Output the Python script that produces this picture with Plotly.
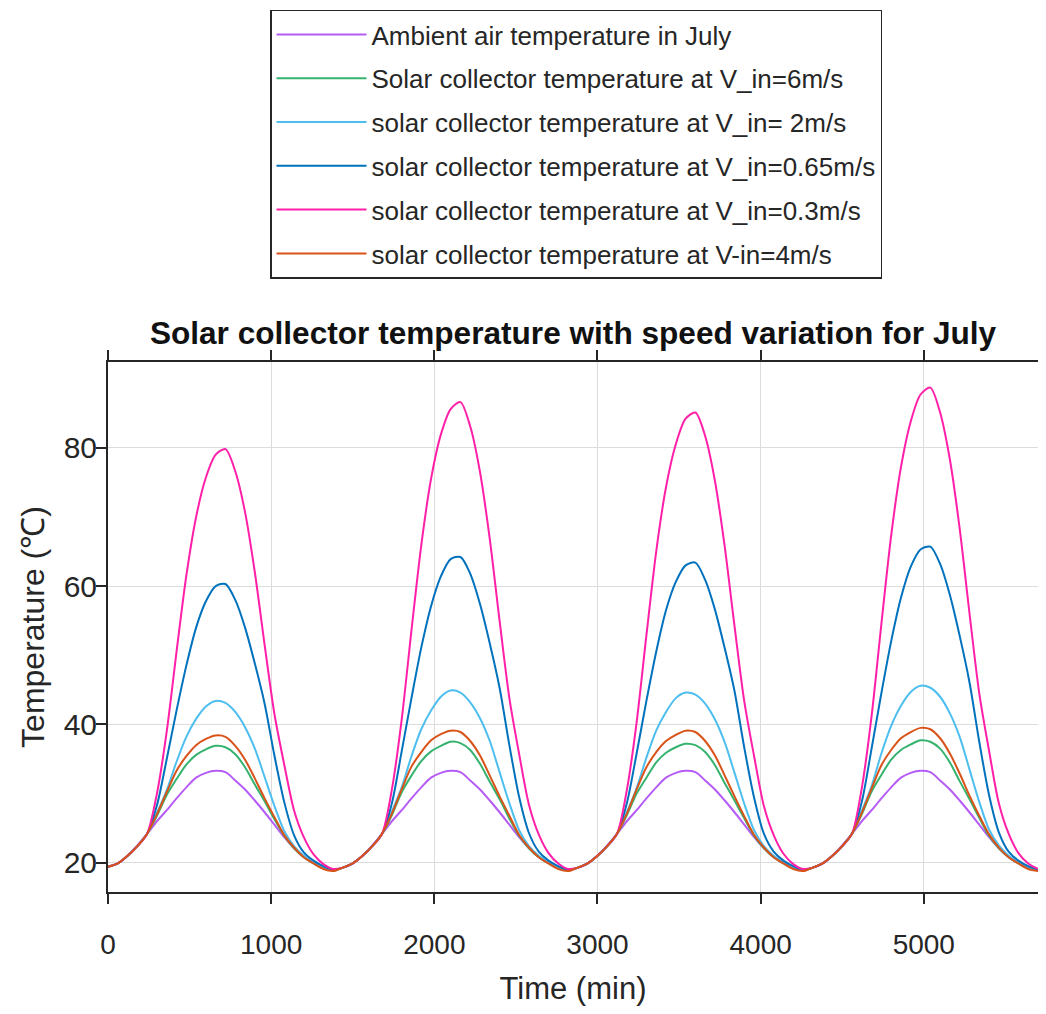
import plotly.graph_objects as go

# Time axis (min), hourly samples
time_min = list(range(0, 5701, 60))

ambient = [
    19.4, 19.9, 21.0, 22.5, 24.2, 26.0, 27.6, 29.3, 30.9, 32.3, 33.0, 33.3, 33.1, 31.9, 30.6, 29.0, 27.3, 25.5, 23.7, 22.1, 20.9, 20.0, 19.3, 19.0,
    19.3, 19.9, 21.0, 22.5, 24.2, 26.0, 27.6, 29.3, 30.9, 32.3, 33.0, 33.3, 33.1, 31.9, 30.6, 29.0, 27.3, 25.5, 23.7, 22.1, 20.9, 20.0, 19.3, 19.0,
    19.3, 19.9, 21.0, 22.5, 24.2, 26.0, 27.6, 29.3, 30.9, 32.3, 33.0, 33.3, 33.1, 31.9, 30.6, 29.0, 27.3, 25.5, 23.7, 22.1, 20.9, 20.0, 19.3, 19.0,
    19.3, 19.9, 21.0, 22.5, 24.2, 26.0, 27.6, 29.3, 30.9, 32.3, 33.0, 33.3, 33.1, 31.9, 30.6, 29.0, 27.3, 25.5, 23.7, 22.1, 20.9, 20.0, 19.3, 19.0,
]
v6 = [
    19.4, 19.9, 21.0, 22.4, 24.2, 26.8, 29.8, 32.1, 34.2, 35.6, 36.4, 36.9, 36.7, 35.7, 33.8, 31.3, 28.9, 26.3, 23.9, 22.1, 20.8, 19.9, 19.2, 18.9,
    19.3, 19.9, 21.0, 22.4, 24.2, 26.9, 30.2, 32.6, 34.7, 36.1, 36.9, 37.5, 37.3, 36.3, 34.3, 31.7, 29.2, 26.4, 23.9, 22.1, 20.8, 19.9, 19.2, 18.9,
    19.3, 19.9, 21.0, 22.4, 24.2, 26.9, 30.0, 32.3, 34.5, 35.9, 36.7, 37.2, 37.0, 36.0, 34.1, 31.5, 29.0, 26.4, 23.9, 22.1, 20.8, 19.9, 19.2, 18.9,
    19.3, 19.9, 21.0, 22.4, 24.2, 27.0, 30.3, 32.7, 34.9, 36.3, 37.1, 37.7, 37.5, 36.5, 34.5, 31.8, 29.2, 26.5, 23.9, 22.1, 20.8, 19.9, 19.2, 18.9,
]
v2 = [
    19.4, 19.9, 21.0, 22.4, 24.2, 27.2, 30.5, 34.6, 38.2, 40.8, 42.6, 43.4, 43.1, 41.8, 39.6, 36.5, 32.4, 28.2, 24.6, 22.4, 21.0, 20.0, 19.2, 18.9,
    19.3, 19.9, 21.0, 22.4, 24.2, 27.4, 30.9, 35.4, 39.3, 42.0, 44.0, 44.9, 44.6, 43.2, 40.9, 37.6, 33.1, 28.6, 24.7, 22.4, 21.0, 20.0, 19.2, 18.9,
    19.3, 19.9, 21.0, 22.4, 24.2, 27.3, 30.8, 35.2, 39.1, 41.8, 43.8, 44.6, 44.3, 43.0, 40.7, 37.4, 33.0, 28.5, 24.7, 22.4, 21.0, 20.0, 19.2, 18.9,
    19.3, 19.9, 21.0, 22.4, 24.2, 27.5, 31.1, 35.8, 39.8, 42.7, 44.7, 45.6, 45.3, 44.0, 41.6, 38.2, 33.5, 28.8, 24.8, 22.5, 21.0, 20.0, 19.2, 18.9,
]
v065 = [
    19.4, 19.9, 21.0, 22.4, 24.2, 28.3, 35.0, 42.0, 48.5, 54.0, 57.8, 60.0, 60.3, 58.0, 54.0, 48.8, 43.0, 35.5, 28.8, 24.0, 21.5, 20.3, 19.5, 19.0,
    19.3, 19.9, 21.0, 22.4, 24.2, 28.6, 36.1, 43.8, 51.1, 57.1, 61.4, 63.9, 64.2, 61.8, 57.4, 51.7, 45.3, 37.0, 29.5, 24.3, 21.6, 20.3, 19.5, 19.0,
    19.3, 19.9, 21.0, 22.4, 24.2, 28.6, 35.8, 43.4, 50.5, 56.5, 60.6, 63.0, 63.4, 60.9, 56.6, 51.0, 44.8, 36.6, 29.4, 24.2, 21.6, 20.3, 19.5, 19.0,
    19.3, 19.9, 21.0, 22.4, 24.2, 28.8, 36.5, 44.5, 52.0, 58.3, 62.8, 65.3, 65.7, 63.2, 58.7, 52.8, 46.1, 37.5, 29.8, 24.4, 21.6, 20.3, 19.5, 19.0,
]
v03 = [
    19.4, 19.9, 21.0, 22.4, 24.2, 30.0, 39.0, 50.5, 61.5, 70.0, 75.7, 79.0, 79.8, 76.6, 70.7, 62.0, 51.5, 41.5, 34.2, 27.6, 23.7, 21.2, 19.8, 19.1,
    19.3, 19.9, 21.0, 22.4, 24.2, 30.6, 40.7, 53.6, 65.9, 75.5, 81.9, 85.6, 86.6, 83.1, 76.5, 66.8, 55.0, 43.8, 35.7, 28.4, 24.1, 21.4, 19.9, 19.1,
    19.3, 19.9, 21.0, 22.4, 24.2, 30.5, 40.3, 52.9, 65.0, 74.3, 80.5, 84.2, 85.1, 81.7, 75.2, 65.7, 54.2, 43.3, 35.4, 28.2, 24.0, 21.3, 19.8, 19.1,
    19.3, 19.9, 21.0, 22.4, 24.2, 30.8, 41.2, 54.5, 67.3, 77.2, 83.8, 87.7, 88.7, 85.1, 78.3, 68.3, 56.1, 44.5, 36.2, 28.6, 24.2, 21.4, 19.9, 19.1,
]
v4 = [
    19.4, 19.9, 21.0, 22.4, 24.2, 27.0, 30.2, 33.3, 35.4, 37.0, 37.9, 38.4, 38.2, 36.9, 34.9, 32.2, 29.3, 26.6, 24.0, 22.2, 20.8, 19.9, 19.1, 18.8,
    19.3, 19.9, 21.0, 22.4, 24.2, 27.1, 30.6, 33.9, 36.0, 37.7, 38.6, 39.1, 38.9, 37.6, 35.5, 32.6, 29.6, 26.8, 24.0, 22.2, 20.8, 19.9, 19.1, 18.8,
    19.3, 19.9, 21.0, 22.4, 24.2, 27.1, 30.6, 33.8, 36.0, 37.6, 38.5, 39.1, 38.9, 37.6, 35.5, 32.6, 29.6, 26.7, 24.0, 22.2, 20.8, 19.9, 19.1, 18.8,
    19.3, 19.9, 21.0, 22.4, 24.2, 27.2, 30.7, 34.1, 36.3, 38.0, 38.9, 39.5, 39.3, 38.0, 35.8, 32.9, 29.7, 26.8, 24.1, 22.2, 20.8, 19.9, 19.1, 18.8,
]

series_names = [
    "Ambient air temperature in July",
    "Solar collector temperature at V_in=6m/s",
    "solar collector temperature at V_in= 2m/s",
    "solar collector temperature at V_in=0.65m/s",
    "solar collector temperature at V_in=0.3m/s",
    "solar collector temperature at V-in=4m/s",
]
series_values = [ambient, v6, v2, v065, v03, v4]
series_colors = ["#B65CF6", "#35B36E", "#4DBEEE", "#0072BD", "#FF1FA9", "#D95319"]

x_ticks = [0, 1000, 2000, 3000, 4000, 5000]
y_ticks = [20, 40, 60, 80]

FONT = "Liberation Sans, Arial, sans-serif"
TXT = "#262626"

fig = go.Figure()
for i, (name, vals, col) in enumerate(zip(series_names, series_values, series_colors)):
    fig.add_trace(go.Scatter(
        x=time_min, y=vals, mode="lines", name=name, legendgroup=f"g{i}",
        line=dict(color=col, width=2, shape="spline", smoothing=0.8),
    ))

axis_common = dict(
    showline=True, linecolor=TXT, linewidth=2, mirror="allticks",
    ticks="outside", ticklen=10, tickwidth=1.5, tickcolor=TXT,
    showgrid=True, gridcolor="#DCDCDC", gridwidth=1.2,
    zeroline=False, automargin=False,
)

# page body has an 8px margin; keep the figure inside the window (no scrollbars)
W, H = 1030, 998
PLOT_H = H - 354 - 114
fig.update_layout(
    width=W, height=H, autosize=False,
    paper_bgcolor="white", plot_bgcolor="white",
    margin=dict(l=100, r=0, t=354, b=114, autoexpand=False),
    font=dict(family=FONT, color=TXT),
    title=dict(
        text="Solar collector temperature with speed variation for July",
        font=dict(family=FONT, size=31.6, color="#111111", weight="bold"),
        x=0.5, xanchor="center", xref="paper",
        y=1 - 325 / H, yanchor="middle", yref="container",
    ),
    xaxis=dict(
        range=[0, 5700], tickvals=x_ticks, ticklabelstandoff=16,
        tickfont=dict(family=FONT, size=28, color=TXT),
        title=dict(text="Time (min)", font=dict(family=FONT, size=31, color=TXT), standoff=22),
        **axis_common,
    ),
    yaxis=dict(
        range=[15.77, 92.4], tickvals=y_ticks, ticklabelstandoff=-7,
        tickfont=dict(family=FONT, size=30, color=TXT),
        title=dict(text="Temperature (℃)", font=dict(family=FONT, size=32, color=TXT), standoff=9),
        **axis_common,
    ),
    showlegend=True,
    legend=dict(
        x=(270 - 108) / (W - 100), y=(884 - 1.5) / PLOT_H,
        xanchor="left", yanchor="top",
        bgcolor="white", bordercolor="#262626", borderwidth=1.5,
        font=dict(family=FONT, size=26, color=TXT),
        itemwidth=90, tracegroupgap=7,
    ),
)

fig.write_html("out.html")
